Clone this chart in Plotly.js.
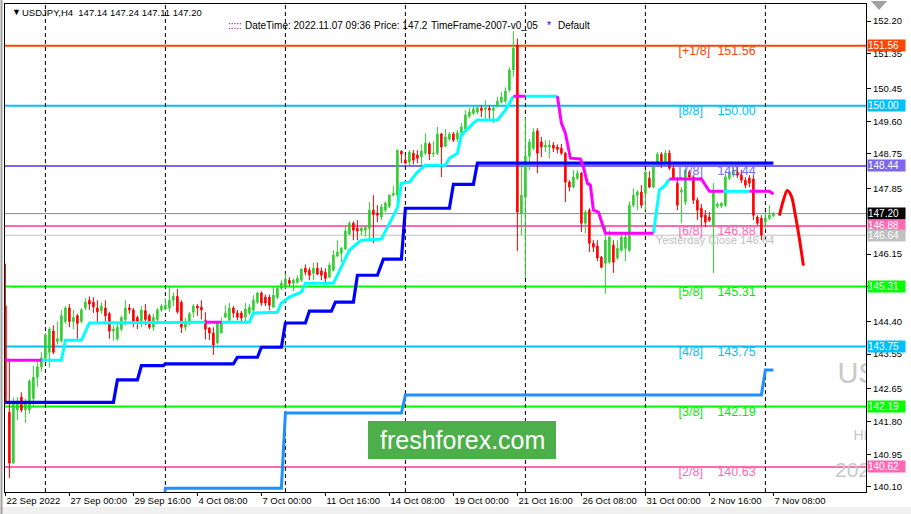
<!DOCTYPE html>
<html><head><meta charset="utf-8">
<script src="https://cdn.plot.ly/plotly-3.0.1.min.js"></script>
<style>html,body{margin:0;padding:0;background:#fff}#c{width:911px;height:514px}</style>
</head><body><div id="c"></div>
<script>
// ---- H4 bars, 22 Sep 2022 08:00 .. 7 Nov 2022 08:00 ----
const open = [
144.80,142.04,140.72,142.10,142.43,142.10,142.10,142.40,142.95,143.22,
143.45,143.60,144.15,143.88,143.90,144.40,144.75,144.40,144.55,144.40,
144.75,144.95,144.90,144.75,144.68,144.75,144.60,144.15,143.95,144.20,
144.45,144.75,144.70,144.50,144.42,144.68,144.55,144.25,144.45,144.70,
144.72,144.75,144.95,145.05,144.90,144.25,144.40,144.64,144.80,144.77,
144.43,144.23,144.10,143.84,144.10,144.51,144.43,144.75,144.62,144.62,
144.51,144.62,144.69,144.90,145.14,145.03,145.03,144.77,145.03,145.26,
145.29,145.47,145.39,145.42,145.47,145.78,145.73,145.65,145.78,145.71,
145.68,145.55,145.73,146.10,146.17,146.28,146.67,146.95,146.82,146.75,
146.77,146.82,147.29,147.21,147.11,147.29,147.39,147.68,147.68,148.82,
148.59,148.54,148.77,148.72,148.67,148.77,149.01,148.75,148.77,149.27,
148.95,149.14,149.27,149.14,149.30,149.40,149.73,149.81,149.84,149.94,
149.91,149.94,149.88,149.99,150.10,150.12,150.41,150.93,151.58,147.21,
147.63,148.69,148.90,149.35,149.06,148.93,148.93,148.98,148.93,148.90,
148.77,148.02,147.89,148.12,148.25,146.95,147.29,146.43,146.36,146.07,
145.91,145.94,146.38,146.05,146.25,146.30,146.25,147.42,147.68,147.76,
147.73,148.12,147.89,148.54,148.74,148.56,148.77,148.38,147.99,147.76,
147.50,148.28,148.15,147.55,147.34,147.16,147.11,146.90,147.39,147.40,
147.42,148.12,148.20,148.28,148.20,148.07,148.12,148.10,147.11,147.08,
146.98,147.08,147.14];
const high = [
145.90,143.35,142.43,142.43,142.56,142.40,142.90,143.25,143.35,143.60,
144.10,144.25,144.30,144.40,144.70,144.80,144.85,144.70,144.60,144.75,
145.00,145.05,145.03,144.95,144.90,144.95,144.65,144.30,144.35,144.55,
144.95,144.85,144.75,144.55,144.80,144.85,144.60,144.60,144.75,144.85,
145.00,145.30,145.15,145.25,144.95,144.50,144.65,144.85,144.85,144.95,
144.64,144.25,144.25,144.40,144.50,144.82,144.88,144.80,144.70,144.67,
144.88,144.85,145.08,145.16,145.18,145.10,145.10,145.29,145.29,145.47,
145.65,145.55,145.52,145.60,145.78,145.88,145.80,145.93,145.93,145.80,
145.78,145.93,146.25,146.51,146.33,146.90,147.00,147.00,147.03,146.88,
146.90,147.50,147.68,147.42,147.45,147.52,147.70,147.92,148.85,148.85,
148.72,148.85,148.85,148.85,149.00,149.29,149.06,149.08,149.45,149.30,
149.40,149.32,149.32,149.37,149.55,149.89,149.94,150.00,150.02,150.02,
150.14,150.01,150.01,150.23,150.36,150.48,151.00,151.94,151.75,148.51,
149.70,149.14,149.42,149.42,149.19,149.11,149.11,149.06,149.00,149.01,
148.80,148.07,148.33,148.33,148.28,147.29,147.34,146.51,146.51,146.10,
146.90,146.77,146.51,146.51,146.72,146.72,147.52,147.86,147.81,147.94,
148.33,148.30,148.51,148.80,148.80,148.85,148.85,148.46,148.15,147.89,
148.41,148.33,148.20,147.62,147.45,147.29,147.24,147.99,147.50,147.50,
148.25,148.33,148.46,148.41,148.33,148.15,148.20,148.20,147.16,147.16,
147.24,147.42,147.24];
const low = [
142.25,140.33,140.70,141.84,142.04,141.76,142.00,142.20,142.70,143.10,
143.35,143.20,143.55,143.80,143.85,144.35,144.25,144.20,143.95,144.35,
144.70,144.70,144.62,144.38,144.60,144.40,143.95,143.90,143.90,144.15,
144.30,144.60,144.25,144.20,144.25,144.30,144.20,144.15,144.40,144.65,
144.70,144.65,144.80,144.60,144.10,144.15,144.30,144.50,144.55,144.45,
143.93,143.92,143.53,143.80,144.10,144.49,144.38,144.50,144.43,144.36,
144.38,144.56,144.64,144.85,144.80,144.80,144.69,144.77,144.98,145.22,
145.26,145.32,145.18,145.37,145.42,145.60,145.47,145.47,145.60,145.47,
145.39,145.52,145.70,146.07,145.94,146.25,146.64,146.51,146.51,146.64,
146.60,146.54,146.43,146.98,147.03,147.24,147.34,147.65,147.42,148.51,
148.48,148.46,148.48,148.51,148.46,148.72,148.59,148.67,148.72,148.15,
148.93,149.09,149.06,149.06,149.25,149.35,149.68,149.76,149.78,149.71,
149.60,149.66,149.55,149.97,150.06,150.06,150.36,150.75,146.23,146.64,
145.53,148.33,148.85,148.25,148.67,148.80,148.64,148.80,148.77,148.72,
147.50,147.78,147.86,148.07,146.72,146.69,146.20,146.20,145.97,145.78,
145.12,145.90,145.66,146.00,146.20,145.97,146.20,147.37,147.29,147.34,
147.29,147.86,147.86,148.48,148.38,148.51,148.33,148.07,147.29,146.95,
147.42,148.10,147.45,147.03,146.85,146.85,146.98,145.66,147.34,147.34,
147.37,148.07,148.15,148.12,147.99,147.86,147.89,147.03,146.90,146.51,
146.79,147.03,147.11];
const close = [
142.30,140.72,142.30,142.30,142.10,142.30,142.85,142.95,143.22,143.45,
144.05,144.20,143.60,143.95,144.55,144.75,144.40,144.50,144.35,144.70,
144.90,144.85,144.78,144.65,144.80,144.55,144.15,144.20,144.25,144.50,
144.75,144.70,144.40,144.40,144.70,144.45,144.25,144.50,144.70,144.80,
144.82,144.95,145.05,144.65,144.25,144.40,144.60,144.80,144.75,144.70,
144.20,144.10,143.79,144.36,144.36,144.62,144.75,144.62,144.51,144.49,
144.72,144.77,144.95,145.14,144.88,144.88,144.82,145.08,145.26,145.39,
145.50,145.39,145.47,145.52,145.76,145.68,145.60,145.78,145.63,145.60,
145.52,145.86,146.12,146.20,146.30,146.75,146.95,146.77,146.75,146.82,
146.85,147.29,147.18,147.16,147.37,147.47,147.68,147.73,148.85,148.75,
148.51,148.80,148.59,148.64,148.82,149.03,148.75,148.77,149.27,148.93,
149.19,149.27,149.11,149.30,149.45,149.76,149.84,149.91,149.94,149.88,
149.94,149.89,149.94,150.12,150.23,150.38,150.93,151.50,147.24,147.68,
148.69,149.06,149.32,148.77,148.93,148.98,148.98,148.90,148.87,148.77,
148.02,147.89,148.15,148.25,146.95,147.24,146.43,146.33,146.05,145.81,
146.51,146.59,145.94,146.30,146.59,146.59,147.42,147.68,147.76,147.42,
148.28,147.89,148.41,148.74,148.56,148.77,148.38,148.12,147.42,147.81,
148.33,148.15,147.55,147.29,147.11,146.98,147.03,147.76,147.45,147.47,
148.15,148.25,148.33,148.20,148.07,147.94,147.99,147.16,146.95,146.64,
147.08,147.16,147.20];

// x tick labels (bar index : label)
const xTickIdx = [0,16,32,48,64,80,96,112,128,144,160,176,192];
const xTickText = ["22 Sep 2022","27 Sep 00:00","29 Sep 16:00","4 Oct 08:00","7 Oct 00:00","11 Oct 16:00","14 Oct 08:00","19 Oct 00:00","21 Oct 16:00","26 Oct 08:00","31 Oct 00:00","2 Nov 16:00","7 Nov 08:00"];
// weekly separators (Monday 00:00 bars)
const sepIdx = [10,40,70,100,130,160,190];
// price axis ticks (visible ones)
const yTickVals = [152.20,151.35,150.45,149.60,148.75,147.85,146.15,145.30,144.40,143.55,142.65,141.80,140.95,140.10];

// Murrey levels
const levelPrice = [151.56,150.00,148.44,146.88,145.31,143.75,142.19,140.62];
const levelTag   = ["[+1/8]","[8/8]","[7/8]","[6/8]","[5/8]","[4/8]","[3/8]","[2/8]"];
const levelText  = ["151.56","150.00","148.44","146.88","145.31","143.75","142.19","140.63"];
const levelColor = ["#FF4500","#00BFFF","#7B68EE","#FF69B4","#00EE00","#00BFFF","#00EE00","#FF69B4"];
const yesterdayClose = 146.64;
const bidPrice = 147.20;

// price tags on axis
const tagPrice = [151.56,150.00,148.44,147.20,146.88,146.64,145.31,143.75,142.19,140.62];
const tagColor = ["#FF4500","#00BFFF","#7B68EE","#000000","#FF69B4","#C0C0C0","#00FF00","#00BFFF","#00FF00","#FF69B4"];

// trailing line (cyan = up, magenta = down), breakpoints [bar index, price]
const cyanX = [9,14,15,19,21,50,null,54,61,62,68,69,70,71,74,75,82,83,84,86,88,89,94,95.5,97,98,99,101,103,105,110,111,113,114,117,118,123,125,127,null,130,138,null,162,163,163.5,165,166,null,179.5,186];
const cyanY = [143.39,143.39,143.91,143.91,144.36,144.38,null,144.38,144.38,144.62,144.64,144.88,144.95,145.03,145.16,145.39,145.39,145.60,145.81,146.25,146.43,146.51,146.54,146.85,147.16,147.35,147.99,148.02,148.28,148.46,148.46,148.64,148.77,149.24,149.55,149.63,149.63,149.89,150.25,null,150.25,150.25,null,146.69,147.37,147.81,147.94,148.10,null,147.78,147.78];
const magX = [0,9,null,50,54,null,127,130,null,138,139,140,140.5,141.25,143.75,144.5,145.5,146.25,147,148.25,150,162,null,166,174,176,179.5,null,186,191,192];
const magY = [143.39,143.39,null,144.38,144.38,null,150.25,150.25,null,150.25,149.55,149.29,149.03,148.64,148.62,148.41,147.99,147.94,147.29,147.24,146.69,146.69,null,148.10,148.10,147.78,147.78,null,147.78,147.78,147.71];
// dark blue step line
const blueX = [0,27,28,33,34,39.5,40,57,58,63,64,69,70,75,76,81.5,82.5,87,88,93,94.5,99,100,111,112,117,118,192];
const blueY = [142.30,142.30,142.88,142.88,143.25,143.25,143.30,143.30,143.47,143.47,143.73,143.73,144.36,144.36,144.67,144.67,144.90,144.90,145.60,145.60,146.02,146.02,147.34,147.34,147.96,147.96,148.51,148.51];
// dodger blue step line
const dodgerX = [39,40,69,70,99,100,189,190,192];
const dodgerY = [139.00,140.07,140.07,142.02,142.02,142.49,142.49,143.14,143.14];
// forecast arrow curve
const fcX = [193.5,194.5,195.5,196.5,197.5,198.5,199.5];
const fcY = [147.15,147.55,147.80,147.65,147.15,146.55,145.85];

const headerText = "USDJPY,H4  147.14 147.24 147.11 147.20";
const infoParts = [[":::::",226,"#800080"],["DateTime: 2022.11.07 09:36",243,"#000"],["Price: 147.2",372,"#000"],["TimeFrame-2007-v0_05",429,"#000"],["*",545,"#0000FF"],["Default",556,"#000"]];

const FONT = "Liberation Sans, Arial, sans-serif";
const L=5, T=4, W=861, H=488;
function P(xp, yp){ return {xref:'paper', yref:'paper', x:(xp-L)/W, y:(T+H-yp)/H}; }

const idx = open.map((_, i) => i);
const traces = [];

// level labels (under candles)
traces.push({type:'scatter', mode:'text', x:levelPrice.map(()=>168.3), y:levelPrice, text:levelTag,
  textposition:'bottom right', textfont:{family:FONT, size:12.5, color:levelColor}, hoverinfo:'skip', showlegend:false});
traces.push({type:'scatter', mode:'text', x:levelPrice.map(()=>178.0), y:levelPrice, text:levelText,
  textposition:'bottom right', textfont:{family:FONT, size:12.5, color:levelColor}, hoverinfo:'skip', showlegend:false});
traces.push({type:'scatter', mode:'text', x:[162.6], y:[yesterdayClose], text:["Yesterday Close " + yesterdayClose.toFixed(2)],
  textposition:'bottom right', textfont:{family:FONT, size:11.2, color:'#C0C0C0'}, hoverinfo:'skip', showlegend:false});
// big faded background text (clipped by plot area)
traces.push({type:'scatter', mode:'text', x:[208.0,212.0,207.4], y:[142.99,141.40,140.49], text:["USDJPY","HIGH","2022.11.07"],
  textposition:'middle right', textfont:{family:FONT, size:[29,14,21], color:'#C8C8C8'}, hoverinfo:'skip', showlegend:false});

traces.push({type:'scatter', mode:'lines', x:dodgerX, y:dodgerY, line:{color:'#1E90FF', width:3}, hoverinfo:'skip', showlegend:false});
traces.push({type:'scatter', mode:'lines', x:blueX, y:blueY, line:{color:'#0000FF', width:3.2}, hoverinfo:'skip', showlegend:false});

traces.push({type:'candlestick', x:idx, open:open, high:high, low:low, close:close,
  increasing:{line:{color:'#32CD32', width:1}, fillcolor:'#32CD32'},
  decreasing:{line:{color:'#FF0000', width:1}, fillcolor:'#FF0000'},
  whiskerwidth:0, hoverinfo:'skip', showlegend:false});

traces.push({type:'scatter', mode:'lines', x:cyanX, y:cyanY, line:{color:'#00FFFF', width:3}, connectgaps:false, hoverinfo:'skip', showlegend:false});
traces.push({type:'scatter', mode:'lines', x:magX, y:magY, line:{color:'#FF00FF', width:3}, connectgaps:false, hoverinfo:'skip', showlegend:false});
traces.push({type:'scatter', mode:'lines', x:fcX, y:fcY, line:{color:'#FF0000', width:3, shape:'spline'}, hoverinfo:'skip', showlegend:false});

const shapes = [];
// background strips outside chart
shapes.push({type:'rect', xref:'paper', yref:'paper', x0:-L/W, x1:(911-L)/W, y0:(T+H-514)/H, y1:(T+H-507)/H, fillcolor:'#F0F0F0', line:{width:0}, layer:'below'});
shapes.push({type:'line', xref:'paper', yref:'paper', x0:-3.5/W, x1:-3.5/W, y0:(T+H-514)/H, y1:(T+H+4)/H, line:{color:'#A0A0A0', width:2}});
// level lines
levelPrice.forEach((p,k)=>shapes.push({type:'line', xref:'paper', yref:'y', x0:0, x1:1, y0:p, y1:p, line:{color:levelColor[k].replace('#00EE00','#00FF00'), width:2}, layer:'below'}));
shapes.push({type:'line', xref:'paper', yref:'y', x0:0, x1:1, y0:yesterdayClose, y1:yesterdayClose, line:{color:'#C0C0C0', width:1}, layer:'below'});
shapes.push({type:'line', xref:'paper', yref:'y', x0:0, x1:1, y0:bidPrice, y1:bidPrice, line:{color:'#7F8790', width:1}, layer:'below'});
// weekly separators
sepIdx.forEach(s=>shapes.push({type:'line', xref:'x', yref:'paper', x0:s, x1:s, y0:0, y1:1, line:{color:'#000', width:1, dash:'4px,3px'}, layer:'below'}));
// logo box
shapes.push({type:'rect', xref:'paper', yref:'paper', x0:(368-L)/W, x1:(556-L)/W, y0:(T+H-459)/H, y1:(T+H-421)/H, fillcolor:'#4DAF4A', line:{width:0}, layer:'above'});
// corner triangle
{
  const a=P(871,1), b=P(887,1), c=P(879,10);
  shapes.push({type:'path', xref:'paper', yref:'paper', path:`M ${a.x} ${a.y} L ${b.x} ${b.y} L ${c.x} ${c.y} Z`, fillcolor:'#A0A0A0', line:{width:0}});
}

const annotations = [];
annotations.push(Object.assign(P(10,12), {text:'▼', showarrow:false, xanchor:'left', yanchor:'middle', font:{family:FONT, size:9, color:'#000'}}));
annotations.push(Object.assign(P(20,12), {text:headerText.replace(/ /g,'&nbsp;'), showarrow:false, xanchor:'left', yanchor:'middle', font:{family:FONT, size:9.5, color:'#000'}}));
infoParts.forEach(([t,xp,col])=>annotations.push(Object.assign(P(xp,25), {text:t, showarrow:false, xanchor:'left', yanchor:'middle', font:{family:FONT, size:10, color:col}})));
annotations.push(Object.assign(P(462,440), {text:'freshforex.com', showarrow:false, xanchor:'center', yanchor:'middle', font:{family:FONT, size:25, color:'#FFFFFF'}}));
tagPrice.forEach((p,k)=>annotations.push({xref:'paper', yref:'y', x:1, y:p, xanchor:'left', yanchor:'middle', xshift:1,
  text:p.toFixed(2), showarrow:false, bgcolor:tagColor[k], width:37, height:11, borderpad:0, align:'left',
  font:{family:FONT, size:10, color:'#FFFFFF'}}));

const layout = {
  width:911, height:514, margin:{l:L, r:911-L-W, t:T, b:514-T-H},
  paper_bgcolor:'#FFFFFF', plot_bgcolor:'#FFFFFF', showlegend:false, boxgap:0.45,
  xaxis:{range:[-0.1,215.15], showgrid:false, zeroline:false, showline:true, linecolor:'#000', linewidth:1, mirror:true,
    ticks:'outside', ticklen:3, tickcolor:'#000', tickvals:xTickIdx, ticktext:xTickText, ticklabelposition:'outside right',
    tickangle:0, automargin:false,
    tickfont:{family:FONT, size:9.5, color:'#000'}, rangeslider:{visible:false}, fixedrange:true},
  yaxis:{side:'right', range:[139.97,152.645], showgrid:false, zeroline:false, showline:true, linecolor:'#000', linewidth:1, mirror:true,
    ticks:'outside', ticklen:4, tickcolor:'#000', tickvals:yTickVals, ticktext:yTickVals.map(v=>v.toFixed(2)), automargin:false,
    tickfont:{family:FONT, size:9.5, color:'#000'}, fixedrange:true},
  shapes:shapes, annotations:annotations
};
Plotly.newPlot('c', traces, layout, {displayModeBar:false, staticPlot:true});
</script></body></html>
